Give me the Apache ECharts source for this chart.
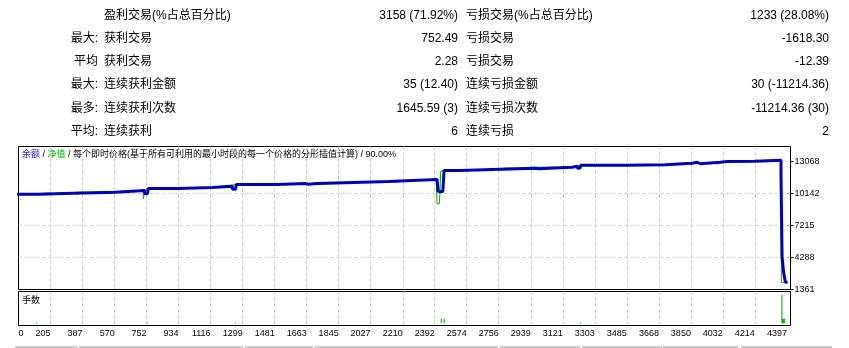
<!DOCTYPE html>
<html>
<head>
<meta charset="utf-8">
<script src="https://cdn.jsdelivr.net/npm/echarts@6/dist/echarts.min.js"></script>
<style>
  html, body { margin: 0; padding: 0; background: #fff; }
  #chart { width: 849px; height: 348px; }
</style>
</head>
<body>
<div id="chart"></div>
<script>
// 统计表 (每行: 前缀, 获利项, 获利值, 亏损项, 亏损值)
const statPrefix = ['', '最大:', '平均', '最大:', '最多:', '平均:']
const statWinName = ['盈利交易(%占总百分比)', '获利交易', '获利交易', '连续获利金额', '连续获利次数', '连续获利']
const statWinValue = ['3158 (71.92%)', '752.49', '2.28', '35 (12.40)', '1645.59 (3)', '6']
const statLossName = ['亏损交易(%占总百分比)', '亏损交易', '亏损交易', '连续亏损金额', '连续亏损次数', '连续亏损']
const statLossValue = ['1233 (28.08%)', '-1618.30', '-12.39', '30 (-11214.36)', '-11214.36 (30)', '2']

// 坐标轴刻度
const xTickLabels = [0, 205, 387, 570, 752, 934, 1116, 1299, 1481, 1663, 1845, 2027, 2210,
  2392, 2574, 2756, 2939, 3121, 3303, 3485, 3668, 3850, 4032, 4214, 4397]
const yTickLabels = [1361, 4288, 7215, 10142, 13068]
const xMin = 22.74
const xMax = 4417
const yMin = 1361
const yMax = 14440

// 余额 [交易序号, 金额]
const balance = [
  [0, 10077], [131, 10077], [131, 10168], [337, 10168], [337, 10260],
  [575, 10260], [575, 10415], [740, 10415], [742, 10113], [757, 10113], [761, 10598],
  [935, 10598], [935, 10690], [1125, 10690], [1125, 10809],
  [1239, 10809], [1241, 10535], [1259, 10535], [1262, 10964],
  [1495, 10964], [1495, 11056], [1656, 11056], [1658, 10990], [1673, 10990], [1675, 11056],
  [1723, 11056], [1723, 11147], [1931, 11147], [1931, 11238],
  [2130, 11238], [2130, 11330], [2264, 11330], [2264, 11421],
  [2405, 11421], [2412, 10324], [2438, 10324], [2445, 12245],
  [2539, 12245], [2539, 12367], [2766, 12367], [2766, 12458],
  [2965, 12458], [2967, 12397], [2982, 12397], [2984, 12550],
  [3174, 12550], [3174, 12641], [3203, 12641], [3205, 12458], [3220, 12458], [3222, 12733],
  [3478, 12733], [3478, 12766], [3705, 12766], [3705, 12912],
  [3857, 12912], [3857, 13004], [3886, 13004], [3888, 12858], [3903, 12858], [3905, 13004],
  [4018, 13004], [4018, 13068], [4057, 13068], [4057, 13095],
  [4214, 13095], [4214, 13187], [4363, 13187], [4363, 11723],
  [4369, 11723], [4369, 4315], [4379, 4315], [4379, 2797],
  [4388, 2797], [4388, 2029], [4400, 2029]
]

// 净值 [交易序号, 金额]
const equity = [
  [0, 10077], [131, 10077], [131, 10168], [175, 10168], [176, 9960], [177, 10168],
  [337, 10168], [337, 10260], [355, 10260], [356, 10050], [357, 10260],
  [575, 10260], [575, 10415], [732, 10415], [734, 9656], [737, 9656], [740, 10415],
  [761, 10598], [935, 10598], [935, 10690], [1125, 10690], [1125, 10809],
  [1262, 10964], [1495, 10964], [1495, 11056], [1723, 11056], [1723, 11147],
  [1931, 11147], [1931, 11238], [2130, 11238], [2130, 11330], [2167, 11330], [2168, 11100], [2169, 11330],
  [2264, 11330], [2264, 11421], [2272, 11421], [2273, 11200], [2274, 11421],
  [2400, 11421], [2405, 9199], [2418, 9199], [2422, 10324], [2426, 12181], [2434, 12181], [2445, 12245],
  [2539, 12245], [2539, 12367], [2766, 12367], [2766, 12458], [2783, 12458], [2784, 12250], [2785, 12458],
  [2851, 12458], [2852, 12300], [2853, 12458],
  [2984, 12550], [3174, 12550], [3174, 12641], [3222, 12733], [3402, 12733], [3403, 12600], [3404, 12733],
  [3478, 12733], [3478, 12766], [3705, 12766], [3705, 12912], [3829, 12912], [3830, 12760], [3831, 12912],
  [3857, 12912], [3857, 13004], [4005, 13004], [4006, 12800], [4007, 13004],
  [4018, 13004], [4018, 13068], [4057, 13068], [4057, 13095],
  [4214, 13095], [4214, 13187], [4363, 13187], [4365, 1990], [4400, 1990]
]

// 手数 [交易序号, 手数]
const lots = [
  [125, 0.03], [757, 0.03], [1258, 0.03], [2429, 0.14], [2446, 0.14], [3222, 0.03],
  [4368, 0.9], [4372, 0.14], [4378, 0.14], [4384, 0.14]
]

const BLUE = '#0000b4'
const GREEN = '#00b000'
const GRID_LINE = { color: '#c8c8c8', type: [3, 3], width: 1 }
const TABLE_FONT = '12px "Liberation Sans", "Noto Sans CJK SC"'
const SMALL_FONT = '9px "Liberation Sans", "Noto Sans CJK SC"'

const xTickPos = xTickLabels.map(v => Math.max(v, xMin))
const xLabel = v => String(xTickLabels[xTickPos.indexOf(v)])

const chart = echarts.init(document.getElementById('chart'), null, { renderer: 'canvas' })

// 统计表文字
const tableText = []
const rowY = i => 15.5 + i * 23.2
const cell = (text, x, y, align) => ({
  type: 'text', x, y, silent: true,
  style: { text, x: 0, y: 0, font: TABLE_FONT, fill: '#000', align, verticalAlign: 'middle', textAlign: align, textVerticalAlign: 'middle' }
})
statPrefix.forEach((p, i) => {
  const y = rowY(i)
  if (p) tableText.push(cell(p, 98, y, 'right'))
  tableText.push(cell(statWinName[i], 104, y, 'left'))
  tableText.push(cell(statWinValue[i], 458, y, 'right'))
  tableText.push(cell(statLossName[i], 466, y, 'left'))
  tableText.push(cell(statLossValue[i], 829, y, 'right'))
})

// 底部灰色分隔段
const footer = [[15, 77], [79, 243], [245, 313], [315, 498], [500, 580], [582, 662], [663, 738], [741, 832]]
  .map(([a, b]) => ({ type: 'rect', silent: true, shape: { x: a, y: 346, width: b - a, height: 2 }, style: { fill: '#cccccc' } }))

const option = {
  animation: false,
  backgroundColor: '#fff',
  grid: [
    { left: 18.5, top: 146.5, width: 772, height: 143, show: true, borderColor: '#000', borderWidth: 1, backgroundColor: 'transparent' },
    { left: 18.5, top: 291.5, width: 772, height: 34, show: true, borderColor: '#000', borderWidth: 1, backgroundColor: 'transparent' }
  ],
  xAxis: [
    {
      gridIndex: 0, type: 'value', min: xMin, max: xMax,
      axisLine: { show: false },
      axisTick: { show: false, customValues: xTickPos },
      axisLabel: { show: false, customValues: xTickPos },
      splitLine: { show: true, showMinLine: false, showMaxLine: false, lineStyle: GRID_LINE }
    },
    {
      gridIndex: 1, type: 'value', min: xMin, max: xMax,
      axisLine: { show: false },
      axisTick: { show: false, customValues: xTickPos },
      axisLabel: {
        show: true, customValues: xTickPos, formatter: xLabel,
        align: 'right', alignMinLabel: 'left', margin: 4,
        color: '#000', fontFamily: 'Liberation Sans', fontSize: 9
      },
      splitLine: { show: true, showMinLine: false, showMaxLine: false, lineStyle: GRID_LINE }
    }
  ],
  yAxis: [
    {
      gridIndex: 0, type: 'value', position: 'right', min: yMin, max: yMax,
      axisLine: { show: false },
      axisTick: { show: true, length: 3, customValues: yTickLabels, lineStyle: { color: '#000' } },
      axisLabel: {
        show: true, customValues: yTickLabels, formatter: v => String(v), margin: 4,
        color: '#000', fontFamily: 'Liberation Sans', fontSize: 9
      },
      splitLine: { show: true, showMinLine: false, showMaxLine: false, lineStyle: GRID_LINE }
    },
    {
      gridIndex: 1, type: 'value', min: -0.07, max: 1,
      show: false, splitLine: { show: false }
    }
  ],
  graphic: [
    {
      type: 'text', x: 22, y: 154.5, silent: true,
      style: {
        text: '{b|余额} / {g|净值} / 每个即时价格(基于所有可利用的最小时段的每一个价格的分形插值计算) / 90.00%',
        font: SMALL_FONT, fill: '#000', verticalAlign: 'middle', textVerticalAlign: 'middle',
        rich: { b: { fill: '#2020c0', font: SMALL_FONT }, g: { fill: '#00b000', font: SMALL_FONT } }
      }
    },
    {
      type: 'text', x: 22, y: 300.5, silent: true,
      style: { text: '手数', font: SMALL_FONT, fill: '#000', verticalAlign: 'middle', textVerticalAlign: 'middle' }
    },
    ...tableText,
    ...footer
  ],
  series: [
    {
      name: '净值', type: 'line', xAxisIndex: 0, yAxisIndex: 0, data: equity,
      showSymbol: false, z: 2, lineStyle: { color: GREEN, width: 1 }, itemStyle: { color: GREEN }
    },
    {
      name: '余额', type: 'line', xAxisIndex: 0, yAxisIndex: 0, data: balance,
      showSymbol: false, z: 3, lineStyle: { color: BLUE, width: 3 }, itemStyle: { color: BLUE }
    },
    {
      name: '手数', type: 'bar', xAxisIndex: 1, yAxisIndex: 1, data: lots,
      barWidth: 1, itemStyle: { color: '#00a000' }
    }
  ]
}

chart.setOption(option)
</script>
</body>
</html>
